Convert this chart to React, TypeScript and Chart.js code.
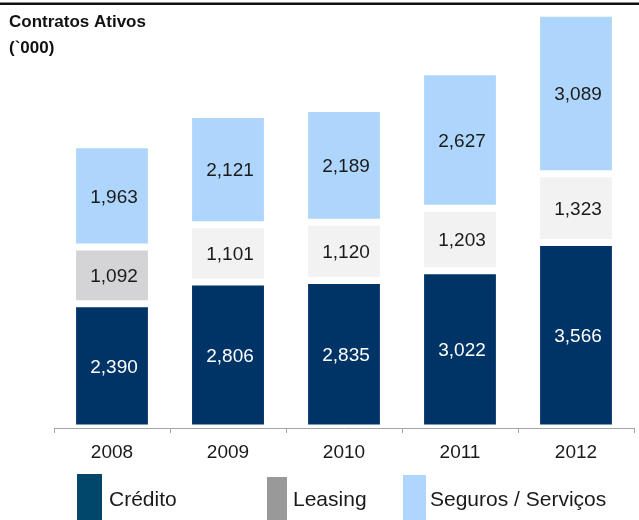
import React, { useEffect, useRef } from "react";
import { Chart, registerables } from "chart.js";

Chart.register(...registerables);

const years = ["2008", "2009", "2010", "2011", "2012"];
const credito = [2390, 2806, 2835, 3022, 3566];
const leasing = [1092, 1101, 1120, 1203, 1323];
const seguros = [1963, 2121, 2189, 2627, 3089];

const seriesNames = ["Crédito", "Leasing", "Seguros / Serviços"];
const barColors = ["#003366", "#f2f2f2", "#aed6fd"];
const leasingColors = ["#d4d4d7", "#f2f2f2", "#f2f2f2", "#f2f2f2", "#f2f2f2"];
const legendColors = ["#00476b", "#999999", "#aed6ff"];
const labelColors = ["#ffffff", "#1a1a1a", "#1a1a1a"];
const titleLines = ["Contratos Ativos", "(`000)"];

const FONT = '"Liberation Sans", Arial, sans-serif';

const overlayPlugin = {
  id: "overlay",
  afterDatasetsDraw(chart: any) {
    const ctx = chart.ctx;
    ctx.save();
    ctx.font = `19px ${FONT}`;
    ctx.textAlign = "center";
    ctx.textBaseline = "middle";
    chart.data.datasets.forEach((ds: any, di: number) => {
      const meta = chart.getDatasetMeta(di);
      meta.data.forEach((el: any, i: number) => {
        const { x, y, base } = el.getProps(["x", "y", "base"], true);
        ctx.fillStyle = labelColors[di];
        ctx.fillText(Number(ds.data[i]).toLocaleString("en-US"), x + 2, (y + base) / 2 + 1.5);
      });
    });
    ctx.restore();
  },
  afterDraw(chart: any) {
    const ctx = chart.ctx;
    ctx.save();
    // top rule
    ctx.fillStyle = "#111111";
    ctx.fillRect(0, 2.5, chart.width, 2.5);
    // title
    ctx.fillStyle = "#111111";
    ctx.font = `bold 17px ${FONT}`;
    ctx.textAlign = "left";
    ctx.textBaseline = "alphabetic";
    ctx.fillText(titleLines[0], 9, 27);
    ctx.fillText(titleLines[1], 9, 53);
    // legend
    const boxes = [
      { x: 77, w: 25, top: 474, tx: 109 },
      { x: 267, w: 20, top: 477, tx: 293 },
      { x: 403, w: 23, top: 475, tx: 430 },
    ];
    ctx.font = `21px ${FONT}`;
    ctx.textBaseline = "middle";
    boxes.forEach((b, i) => {
      ctx.fillStyle = legendColors[i];
      ctx.fillRect(b.x, b.top, b.w, chart.height - b.top);
      ctx.fillStyle = "#1a1a1a";
      ctx.fillText(seriesNames[i], b.tx, 500);
    });
    ctx.restore();
  },
};

export default function App() {
  const ref = useRef<HTMLCanvasElement>(null);
  useEffect(() => {
    if (!ref.current) return;
    const common = {
      borderColor: "#ffffff",
      borderWidth: { top: 3.5, bottom: 3.5, left: 0, right: 0 },
      borderSkipped: false,
      categoryPercentage: 1,
      barPercentage: 0.62,
    };
    const chart = new Chart(ref.current, {
      type: "bar",
      data: {
        labels: years,
        datasets: [
          { label: seriesNames[0], data: credito, backgroundColor: barColors[0], ...common },
          { label: seriesNames[1], data: leasing, backgroundColor: leasingColors, ...common },
          { label: seriesNames[2], data: seguros, backgroundColor: barColors[2], ...common },
        ],
      } as any,
      options: {
        responsive: false,
        animation: false,
        devicePixelRatio: 1,
        layout: { padding: { top: 12, left: 54, right: 5, bottom: 62 } },
        plugins: {
          legend: { display: false },
          title: { display: false },
          tooltip: { enabled: false },
        },
        scales: {
          x: {
            stacked: true,
            offset: true,
            grid: {
              offset: true,
              drawOnChartArea: false,
              drawTicks: true,
              tickLength: 5,
              color: "#a6a6a6",
            },
            border: { display: true, color: "#a6a6a6", width: 1 },
            ticks: {
              color: "#1a1a1a",
              font: { family: FONT, size: 19 },
              padding: 8,
            },
            afterFit: (scale: any) => {
              scale.height = 30;
            },
          },
          y: {
            stacked: true,
            display: false,
            min: 0,
            max: 8000,
          },
        },
      } as any,
      plugins: [overlayPlugin],
    });
    return () => chart.destroy();
  }, []);
  return (
    <div style={{ position: "fixed", left: 0, top: 0, width: 639, height: 520, background: "#fff" }}>
      <canvas ref={ref} width={639} height={520} style={{ display: "block", width: 639, height: 520 }} />
    </div>
  );
}
